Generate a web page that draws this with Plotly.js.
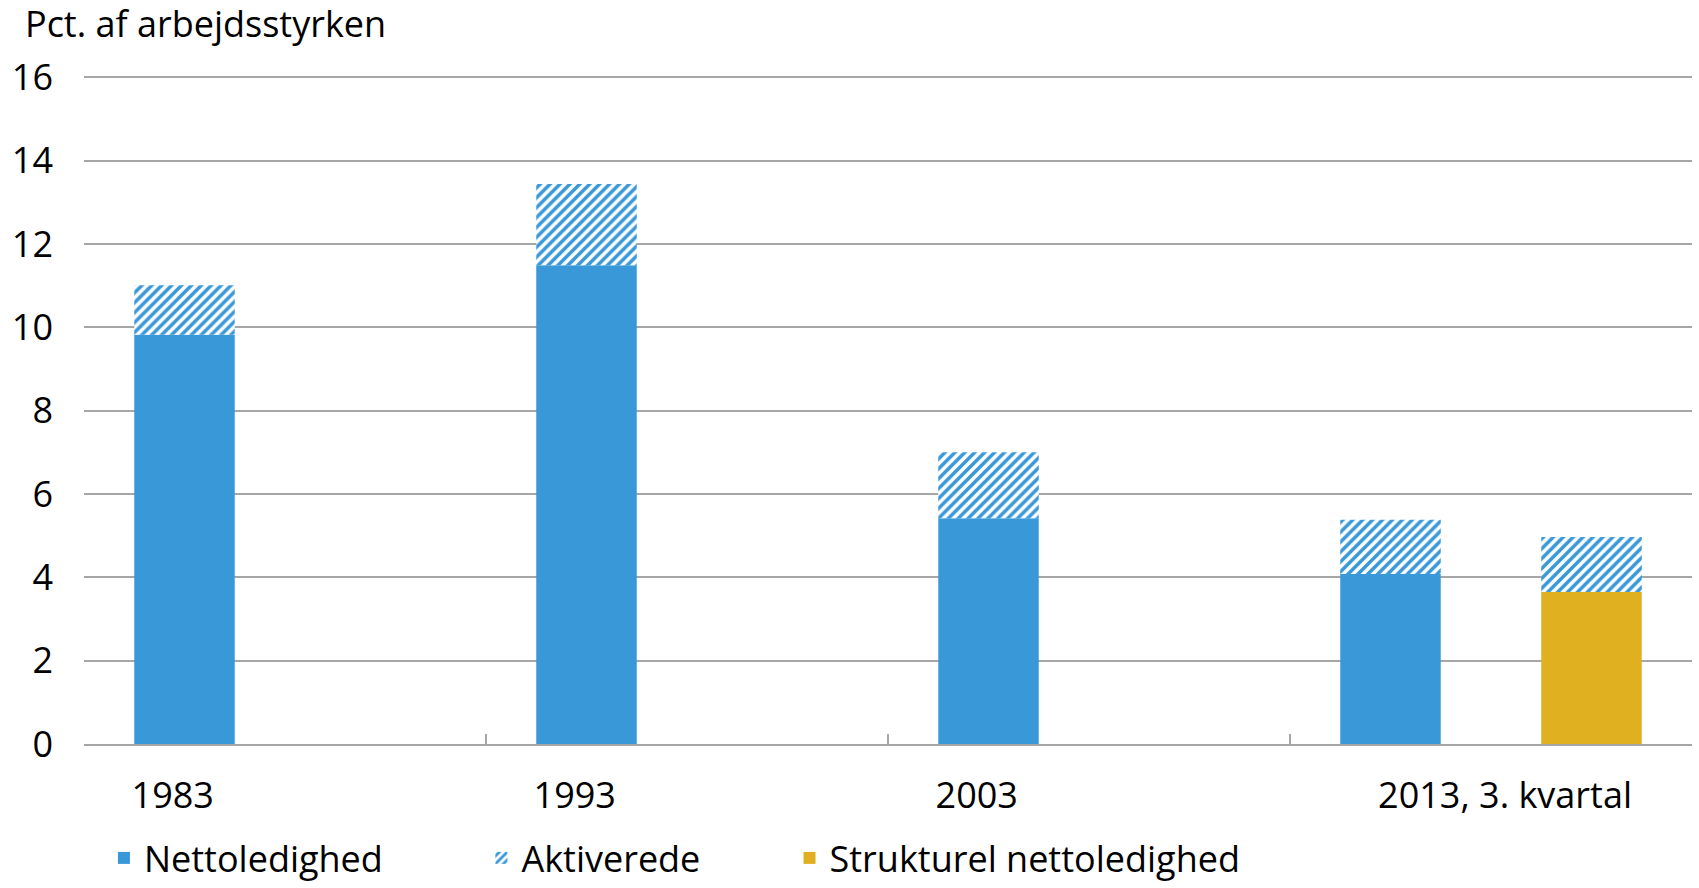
<!DOCTYPE html>
<html>
<head>
<meta charset="utf-8">
<script src="https://cdn.plot.ly/plotly-3.0.1.min.js"></script>
<style>html,body{margin:0;padding:0;background:#fff;}#chart{width:1699px;height:888px;}</style>
</head>
<body>
<div id="chart"></div>
<script>
const categories = ["1983", "1993", "2003", "2013, 3. kvartal"];
const tickLabels = ["1983", "1993", "2003", "2013, 3. kvartal"];
const nettoledighed = [9.82, 11.49, 5.42, 4.08];
const aktiverede = [1.19, 1.95, 1.58, 1.30];
const strukturCategories = ["2013, 3. kvartal"];
const strukturel = [3.65];
const strukturAktiverede = [1.32];

const blue = "rgb(57,152,216)";
const gold = "rgb(225,176,33)";
const font = "Open Sans, Noto Sans, sans-serif";
const fs = 36;

const nb = "\u00A0";
const pad = (n) => nb.repeat(n);
const ticktext = tickLabels.map((t, i) => i < 3 ? t + pad(24) : pad(3) + t);

const traces = [
  {type: "bar", name: "Nettoledighed" + pad(10), x: categories, y: nettoledighed,
   offsetgroup: "A", marker: {color: blue, line: {width: 0}}, hoverinfo: "y"},
  {type: "bar", name: "Aktiverede" + pad(9), x: categories, y: aktiverede, base: nettoledighed,
   offsetgroup: "A",
   marker: {color: "white", line: {width: 0},
            pattern: {shape: "/", fgcolor: blue, bgcolor: "white", size: 7, solidity: 0.5}},
   hoverinfo: "y"},
  {type: "bar", name: "Strukturel nettoledighed", x: strukturCategories, y: strukturel,
   offsetgroup: "B", marker: {color: gold, line: {width: 0}}, hoverinfo: "y"},
  {type: "bar", name: "Aktiverede", x: strukturCategories, y: strukturAktiverede, base: strukturel,
   offsetgroup: "B", showlegend: false,
   marker: {color: "white", line: {width: 0},
            pattern: {shape: "/", fgcolor: blue, bgcolor: "white", size: 7, solidity: 0.5}},
   hoverinfo: "y"}
];

const layout = {
  width: 1699, height: 888,
  paper_bgcolor: "white", plot_bgcolor: "white",
  margin: {l: 84, r: 7, t: 76, b: 144, autoexpand: false},
  barmode: "group", bargap: 0, bargroupgap: 0.5,
  font: {family: font, size: fs, color: "#000"},
  title: {text: "Pct. af arbejdsstyrken", x: 0.0147, xref: "container", xanchor: "left",
          y: 0.972, yref: "container", yanchor: "middle",
          font: {family: font, size: fs, color: "#000"}},
  xaxis: {type: "category", categoryorder: "array", categoryarray: categories,
          tickmode: "array", tickvals: categories, ticktext: ticktext,
          tickson: "boundaries", ticks: "inside", ticklen: 10, tickwidth: 2, tickcolor: "#a6a6a6",
          showline: true, linecolor: "#a6a6a6", linewidth: 2, showgrid: false,
          tickfont: {family: font, size: fs, color: "#000"}, ticklabelstandoff: 19},
  yaxis: {range: [0, 16.03], tickmode: "array", tickvals: [0, 2, 4, 6, 8, 10, 12, 14, 16],
          showgrid: true, gridcolor: "#a6a6a6", gridwidth: 2,
          zeroline: false, showline: false, ticks: "", ticklabelstandoff: 30,
          tickfont: {family: font, size: fs, color: "#000"}},
  legend: {orientation: "h", x: 0.0124, xanchor: "left", y: 0.0, yref: "container", yanchor: "bottom",
           font: {family: font, size: fs, color: "#000"}, traceorder: "normal"},
  showlegend: true
};

Plotly.newPlot("chart", traces, layout, {staticPlot: true, displayModeBar: false});
</script>
</body>
</html>
